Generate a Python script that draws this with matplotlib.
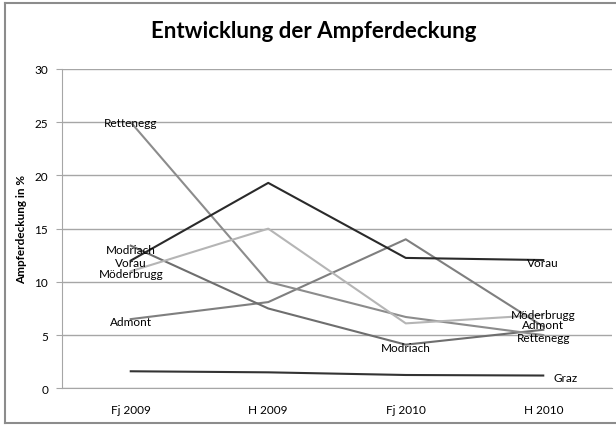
import matplotlib
matplotlib.use("Agg")
import matplotlib.pyplot as plt
from matplotlib.lines import Line2D

plt.rcParams['font.family'] = ['Lato', 'DejaVu Sans']

categories = ["Fj 2009", "H 2009", "Fj 2010", "H 2010"]
graz = [1.6, 1.5, 1.25, 1.2]
vorau = [12.0, 19.3, 12.25, 12.05]
rettenegg = [25.0, 10.0, 6.7, 5.0]
modriach = [13.4, 7.5, 4.1, 5.5]
moederbrugg = [11.0, 15.0, 6.1, 6.9]
admont = [6.5, 8.1, 14.0, 5.8]

series = [
    ("Admont", admont, "#7f7f7f"),
    ("Modriach", modriach, "#6e6e6e"),
    ("Rettenegg", rettenegg, "#8c8c8c"),
    ("Möderbrugg", moederbrugg, "#b5b5b5"),
    ("Vorau", vorau, "#2a2a2a"),
    ("Graz", graz, "#333333"),
]

fig = plt.figure(figsize=(6.16, 4.35), dpi=100)
ax = fig.add_axes([62/616, (435-389.3)/435, 550/616, 319.3/435])

x = list(range(len(categories)))
for name, vals, col in series:
    ax.plot(x, vals, color=col, lw=1.5, zorder=3)

ax.set_xlim(-0.5, 3.5)
ax.set_ylim(0, 30)
ax.set_yticks(range(0, 31, 5))
ax.set_xticks(x)
ax.set_xticklabels(categories)
ax.yaxis.grid(True, color="#a6a6a6", lw=1.0)
ax.set_axisbelow(True)
for s in ["top", "right"]:
    ax.spines[s].set_visible(False)
ax.spines["left"].set_color("#a6a6a6")
ax.spines["bottom"].set_color("#a6a6a6")
ax.tick_params(axis="y", length=4, color="#a6a6a6", labelsize=8.5, pad=6)
ax.tick_params(axis="x", length=0, labelsize=8.5, pad=11)
ax.set_ylabel("Ampferdeckung in %", fontsize=8.5, fontweight="bold", labelpad=5)

def lab(name, vals, i, dx=0, dy=0, ha="center"):
    ax.annotate(name, xy=(i, vals[i]), xytext=(dx*0.72, dy*0.72),
                textcoords="offset points", ha=ha, va="center",
                fontsize=8.5, color="black", zorder=5)

lab("Rettenegg", rettenegg, 0)
lab("Modriach", modriach, 0, dy=-4)
lab("Vorau", vorau, 0, dy=-1.5)
lab("Möderbrugg", moederbrugg, 0, dy=-2)
lab("Admont", admont, 0, dy=-2)
lab("Vorau", vorau, 3, dy=-2)
lab("Möderbrugg", moederbrugg, 3, dy=0)
lab("Admont", admont, 3, dy=1.6)
lab("Rettenegg", rettenegg, 3, dy=-2)
lab("Graz", graz, 3, dx=10, dy=-1.5, ha="left")
lab("Modriach", modriach, 2, dy=-2.5)

fig.text(314/616, 1 - 32/435, "Entwicklung der Ampferdeckung", ha="center", va="center",
         fontsize=16, fontweight="bold")

# outer frame (top, left, bottom)
fc = "#8c8c8c"
fig.add_artist(Line2D([5/616, 1.0], [1 - 4/435, 1 - 4/435], transform=fig.transFigure, color=fc, lw=1.5))
fig.add_artist(Line2D([5/616, 5/616], [1 - 4/435, 1 - 424/435], transform=fig.transFigure, color=fc, lw=1.5))
fig.add_artist(Line2D([5/616, 1.0], [1 - 424/435, 1 - 424/435], transform=fig.transFigure, color=fc, lw=1.5))

fig.savefig("out.png", dpi=100)
